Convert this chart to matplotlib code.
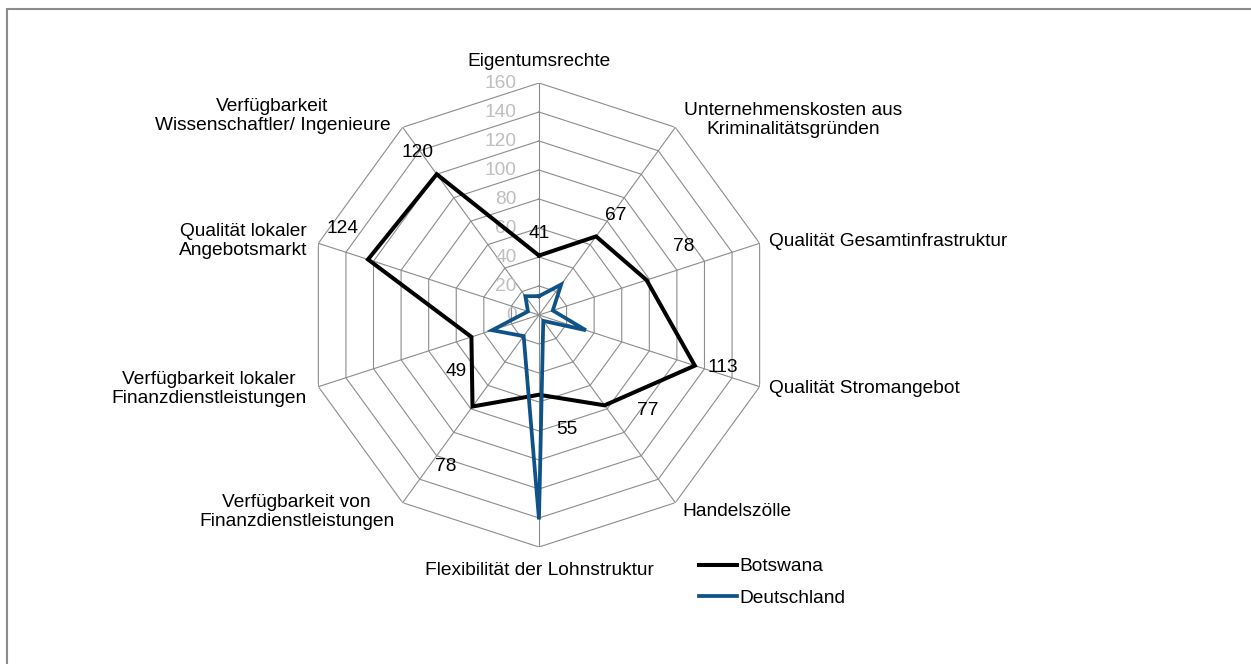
import matplotlib.pyplot as plt
import numpy as np
from matplotlib.lines import Line2D
from matplotlib.patches import Rectangle

plt.rcParams['font.family'] = ['Liberation Sans', 'DejaVu Sans']

categories = [
    "Eigentumsrechte",
    "Unternehmenskosten aus\nKriminalitätsgründen",
    "Qualität Gesamtinfrastruktur",
    "Qualität Stromangebot",
    "Handelszölle",
    "Flexibilität der Lohnstruktur",
    "Verfügbarkeit von\nFinanzdienstleistungen",
    "Verfügbarkeit lokaler\nFinanzdienstleistungen",
    "Qualität lokaler\nAngebotsmarkt",
    "Verfügbarkeit\nWissenschaftler/ Ingenieure",
]
botswana = [41, 67, 78, 113, 77, 55, 78, 49, 124, 120]
deutschland = [13, 26, 10, 34, 5, 141, 18, 34, 8, 16]
levels = [0, 20, 40, 60, 80, 100, 120, 140, 160]

FS = 13.8

# label placement (offset in points, alignment) -- layout only
cat_offsets = [(0, 9.5, 'center', 'bottom'), (6, 5, 'left', 'center'),
               (7, 1, 'left', 'center'), (7, -1.5, 'left', 'center'),
               (5, -6.5, 'left', 'center'), (0, -11, 'center', 'top'),
               (-6, -6.5, 'right', 'center'), (-8.5, -2, 'right', 'center'),
               (-8, 2, 'right', 'center'), (-9, 8, 'right', 'center')]
val_offsets = [(0, 16), (14, 15), (27, 24), (20, -1), (31, -4),
               (20, -25), (-19, -43), (-11, -25), (-18, 22), (-14, 16)]

n = len(categories)
theta = np.arange(n) * 2 * np.pi / n
theta_c = np.append(theta, theta[0])

fig = plt.figure(figsize=(12.51, 6.64), dpi=100)
fig.patches.append(Rectangle((7 / 1251, -0.05), 1.1, 1.05 - 9 / 664,
                             transform=fig.transFigure, fill=False,
                             edgecolor='#8c8c8c', linewidth=1.5))

ax = fig.add_axes([0.2454, 0.1762, 0.3709, 0.6988], projection='polar')
ax.set_theta_zero_location('N')
ax.set_theta_direction(-1)
ax.set_ylim(0, 160)
ax.grid(False)
ax.spines['polar'].set_visible(False)
ax.set_xticks([])
ax.set_yticks([])

grid_c = '#8c8c8c'
for lv in levels[1:]:
    ax.plot(theta_c, [lv] * (n + 1), color=grid_c, lw=0.8, zorder=1)
for t in theta:
    ax.plot([t, t], [0, 160], color=grid_c, lw=0.8, zorder=1)

for lv in levels:
    ax.annotate(str(lv), xy=(0, lv), xytext=(-16, 0), textcoords='offset points',
                ha='right', va='center', fontsize=FS, color='#bfbfbf', zorder=2)

ax.plot(theta_c, botswana + botswana[:1], color='black', lw=2.9,
        solid_joinstyle='miter', zorder=3, label='Botswana')
ax.plot(theta_c, deutschland + deutschland[:1], color='#0f5287', lw=2.7,
        solid_joinstyle='miter', zorder=4, label='Deutschland')

for t, lab, (dx, dy, ha, va) in zip(theta, categories, cat_offsets):
    ax.annotate(lab, xy=(t, 160), xytext=(dx, dy), textcoords='offset points',
                ha=ha, va=va, fontsize=FS, multialignment='center',
                linespacing=1.15, annotation_clip=False)

for t, v, (dx, dy) in zip(theta, botswana, val_offsets):
    ax.annotate(str(v), xy=(t, v), xytext=(dx, dy), textcoords='offset points',
                ha='center', va='center', fontsize=FS, zorder=5)

handles = [Line2D([], [], color='black', lw=2.9),
           Line2D([], [], color='#0f5287', lw=2.7)]
fig.legend(handles, ['Botswana', 'Deutschland'], loc='upper left',
           bbox_to_anchor=(699 / 1251, 1 - 558 / 664), frameon=False,
           fontsize=FS, handlelength=2.0, handletextpad=0.1, labelspacing=0.72,
           borderaxespad=0, borderpad=0)

fig.savefig('out.png', dpi=100)
